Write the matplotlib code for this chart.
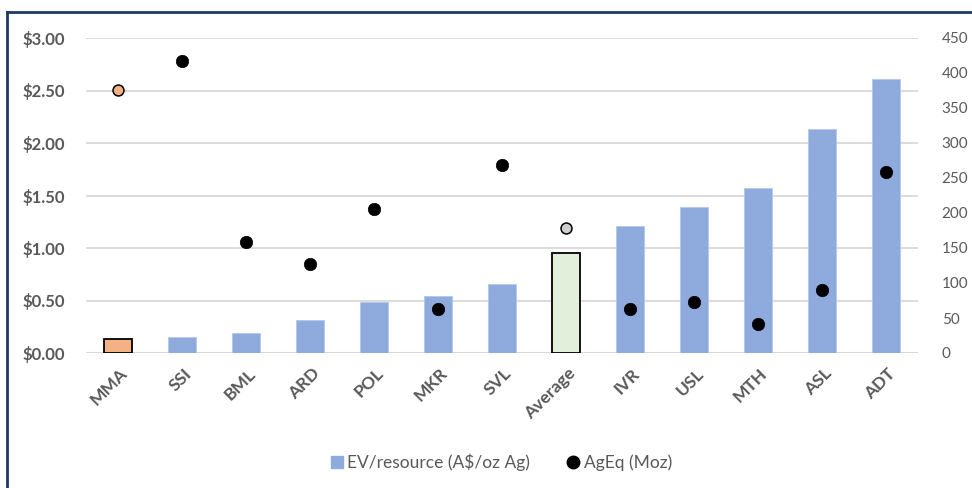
import matplotlib
matplotlib.use("Agg")
import matplotlib.pyplot as plt
import numpy as np
from matplotlib.lines import Line2D

plt.rcParams['font.family'] = ['Lato', 'DejaVu Sans']

# Data
companies = ["MMA", "SSI", "BML", "ARD", "POL", "MKR", "SVL", "Average",
             "IVR", "USL", "MTH", "ASL", "ADT"]
ev_per_resource = [0.13, 0.15, 0.19, 0.31, 0.49, 0.54, 0.66, 0.95,
                   1.21, 1.39, 1.57, 2.13, 2.61]
ageq_moz = [375, 417, 159, 127, 206, 63, 269, 178, 63, 73, 41, 90, 259]
left_ticks = [0.0, 0.5, 1.0, 1.5, 2.0, 2.5, 3.0]
right_ticks = [0, 50, 100, 150, 200, 250, 300, 350, 400, 450]

BLUE = "#8FAADC"
ORANGE = "#F4B183"
GREEN = "#E2EFDA"
GREY_DOT = "#D0CECE"
TEXT = "#595959"
GRID = "#D9D9D9"
NAVY = "#1F3864"

highlight_fill = {"MMA": ORANGE, "Average": GREEN}
highlight_dot = {"MMA": ORANGE, "Average": GREY_DOT}

fig = plt.figure(figsize=(9.72, 4.88), dpi=100)
ax = fig.add_axes([86 / 972, 1 - 353 / 488, (918 - 86) / 972, (353 - 38) / 488])
ax2 = ax.twinx()

x = np.arange(len(companies))
for i, (name, val) in enumerate(zip(companies, ev_per_resource)):
    if name in highlight_fill:
        ax.bar(i, val, width=0.44, color=highlight_fill[name], edgecolor="black",
               linewidth=1.3, zorder=3)
    else:
        ax.bar(i, val, width=0.44, color=BLUE, edgecolor="#B4C7E7",
               linewidth=0.6, zorder=3)

for i, (name, val) in enumerate(zip(companies, ageq_moz)):
    if name in highlight_dot:
        ax2.scatter(i, val, s=62, color=highlight_dot[name], edgecolor="black",
                    linewidth=1.1, zorder=5)
    else:
        ax2.scatter(i, val, s=80, color="black", edgecolor="black",
                    linewidth=0.5, zorder=5)

ax.set_xlim(-0.5, len(companies) - 0.5)
ax.set_ylim(0, 3.0)
ax2.set_ylim(0, 450)

ax.set_yticks(left_ticks)
ax.set_yticklabels([f"${v:.2f}" for v in left_ticks], fontsize=12,
                   fontweight="bold", color=TEXT)
ax2.set_yticks(right_ticks)
ax2.set_yticklabels([str(v) for v in right_ticks], fontsize=11, color=TEXT)

# Rotated category labels, each ending just under its bar
ax.set_xticks(x)
ax.set_xticklabels([])
for i, name in enumerate(companies):
    ax.annotate(name, xy=(i, 0), xycoords=("data", "axes fraction"),
                xytext=(5, -13), textcoords="offset points",
                rotation=45, rotation_mode="anchor", ha="right", va="center",
                fontsize=12.5, fontweight="bold", color=TEXT,
                annotation_clip=False)

ax.tick_params(axis="y", length=0, pad=15)
ax2.tick_params(axis="y", length=0, pad=17)
ax.tick_params(axis="x", length=0)

ax.grid(axis="y", color=GRID, linewidth=1.3, zorder=0)
ax.set_axisbelow(True)
for a in (ax, ax2):
    for s in a.spines.values():
        s.set_visible(False)
ax.axhline(0, color=GRID, linewidth=1.5, zorder=2)

ax.set_zorder(ax2.get_zorder() - 1)
ax.patch.set_visible(False)
ax2.patch.set_visible(False)

handles = [
    Line2D([0], [0], marker="s", linestyle="none", markersize=9,
           markerfacecolor=BLUE, markeredgecolor=BLUE),
    Line2D([0], [0], marker="o", linestyle="none", markersize=9,
           markerfacecolor="black", markeredgecolor="black"),
]
fig.legend(handles, ["EV/resource (A$/oz Ag)", "AgEq (Moz)"],
           loc="center", bbox_to_anchor=(500 / 972, 1 - 462 / 488), ncol=2,
           frameon=False, fontsize=12.5, labelcolor=TEXT, handletextpad=0.1,
           columnspacing=2.0, handlelength=1.0)

# Chart-area border (top and left edges)
fig.add_artist(Line2D([7 / 972, 1.0], [1 - 12 / 488, 1 - 12 / 488],
                      transform=fig.transFigure, color=NAVY, linewidth=2))
fig.add_artist(Line2D([7 / 972, 7 / 972], [0.0, 1 - 12 / 488],
                      transform=fig.transFigure, color=NAVY, linewidth=2))

fig.savefig("out.png", dpi=100, facecolor="white")
